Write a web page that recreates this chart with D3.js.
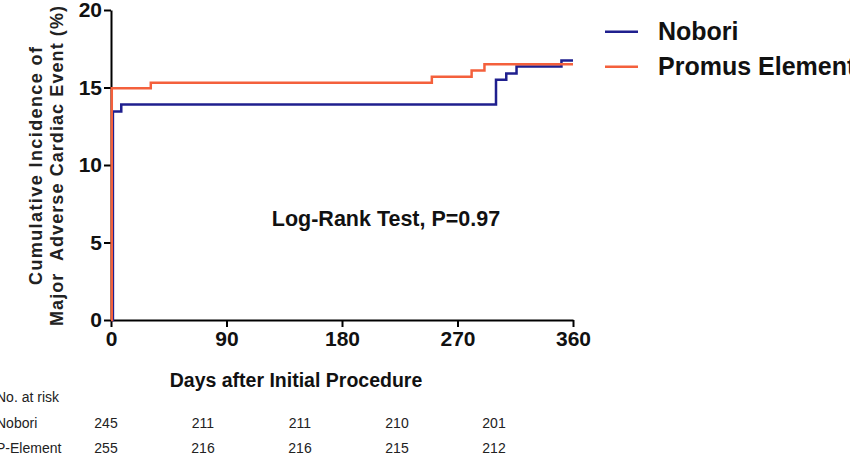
<!DOCTYPE html>
<html><head><meta charset="utf-8">
<script src="https://cdn.jsdelivr.net/npm/d3@7"></script>
<style>
body{margin:0;background:#fff;}
text{font-family:"Liberation Sans",Arial,sans-serif;}
</style></head>
<body><svg id="c" width="850" height="461"></svg>
<script>
// Data
const noboriDays   = [0, 1.5, 8, 300, 308, 316, 351, 360];
const noboriValues = [0, 13.45, 13.9, 15.5, 15.9, 16.35, 16.75, 16.75];
const promusDays   = [0, 0.6, 31, 250, 281, 291, 360];
const promusValues = [0, 14.95, 15.3, 15.7, 16.1, 16.5, 16.5];
const xTicks = [0, 90, 180, 270, 360];
const yTicks = [0, 5, 10, 15, 20];
const seriesNames = ["Nobori", "Promus Element"];
const riskLabels = ["Nobori", "P-Element"];
const riskNobori = [245, 211, 211, 210, 201];
const riskPromus = [255, 216, 216, 215, 212];
const colors = ["#1f1f8e", "#f4603c"];

const svg = d3.select("#c");
const x = d3.scaleLinear().domain([0, 360]).range([111, 573]);
const y = d3.scaleLinear().domain([0, 20]).range([320, 10]);

// Axes
const yAxis = svg.append("g").attr("transform", `translate(${x(0)},0)`)
  .call(d3.axisLeft(y).tickValues(yTicks).tickSize(7).tickSizeOuter(0).tickPadding(2));
const xAxis = svg.append("g").attr("transform", `translate(0,${y(0)})`)
  .call(d3.axisBottom(x).tickValues(xTicks).tickSize(7).tickSizeOuter(0).tickPadding(4));
[yAxis, xAxis].forEach(g => {
  g.select(".domain").attr("stroke", "#000").attr("stroke-width", 2);
  g.selectAll(".tick line").attr("stroke", "#000").attr("stroke-width", 2);
  g.selectAll(".tick text").attr("fill", "#111").style("font-size", "21px")
    .style("font-weight", "bold").style("font-family", '"Liberation Sans",Arial,sans-serif');
});

// Curves
const line = d3.line().x(d => x(d[0])).y(d => y(d[1])).curve(d3.curveStepAfter);
const nob = noboriDays.map((d, i) => [d, noboriValues[i]]);
const pro = promusDays.map((d, i) => [d, promusValues[i]]);
svg.append("path").datum(nob).attr("d", line).attr("fill", "none")
  .attr("stroke", colors[0]).attr("stroke-width", 2.5);
svg.append("path").datum(pro).attr("d", line).attr("fill", "none")
  .attr("stroke", colors[1]).attr("stroke-width", 2.5);

// Y title
const yt = svg.append("g").attr("transform", `translate(0,166) rotate(-90)`);
yt.append("text").attr("x", 0).attr("y", 36).attr("text-anchor", "middle")
  .attr("dominant-baseline", "central").style("font-size", "18px").style("font-weight", "bold")
  .attr("textLength", 238).attr("lengthAdjust", "spacing")
  .attr("fill", "#222").text("Cumulative Incidence of");
yt.append("text").attr("x", 0).attr("y", 57).attr("text-anchor", "middle")
  .attr("dominant-baseline", "central").style("font-size", "18px").style("font-weight", "bold")
  .attr("textLength", 320).attr("lengthAdjust", "spacing")
  .attr("fill", "#222").attr("xml:space", "preserve")
  .text("Major  Adverse Cardiac Event (%)");

// X title
svg.append("text").attr("x", 296).attr("y", 387).attr("text-anchor", "middle")
  .style("font-size", "19.5px").style("font-weight", "bold").attr("fill", "#111")
  .text("Days after Initial Procedure");

// Annotation
svg.append("text").attr("x", 386).attr("y", 226).attr("text-anchor", "middle")
  .style("font-size", "21.5px").style("font-weight", "bold").attr("fill", "#111")
  .text("Log-Rank Test, P=0.97");

// Legend
const lg = svg.append("g");
seriesNames.forEach((n, i) => {
  const ly = 31.7 + i * 35;
  lg.append("line").attr("x1", 605).attr("x2", 638).attr("y1", ly).attr("y2", ly)
    .attr("stroke", colors[i]).attr("stroke-width", 2.5);
  lg.append("text").attr("x", 658).attr("y", ly + 8.5).style("font-size", "25px")
    .style("font-weight", "bold").attr("fill", "#111").text(n);
});

// Risk table
const rx = d3.scaleLinear().domain([0, 360]).range([106, 494]);
svg.append("text").attr("x", -4).attr("y", 402).style("font-size", "14px")
  .attr("fill", "#222").text("No. at risk");
[riskNobori, riskPromus].forEach((row, r) => {
  const ry = 428 + r * 25;
  svg.append("text").attr("x", -4).attr("y", ry).style("font-size", "14px")
    .attr("fill", "#222").text(riskLabels[r]);
  svg.selectAll(null).data(row).enter().append("text")
    .attr("x", (d, i) => rx(xTicks[i])).attr("y", ry).attr("text-anchor", "middle")
    .style("font-size", "14px").attr("fill", "#222").text(d => d);
});
</script></body></html>
